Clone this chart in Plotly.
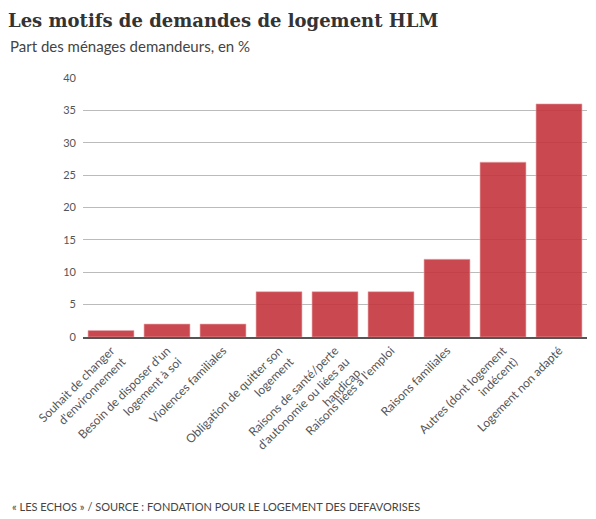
import plotly.graph_objects as go

# Data
motifs = [
    "Souhait de changer<br>d'environnement",
    "Besoin de disposer d'un<br>logement à soi",
    "Violences familiales",
    "Obligation de quitter son<br>logement",
    "Raisons de santé/perte<br>d'autonomie ou liées au<br>handicap",
    "Raisons liées à l'emploi",
    "Raisons familiales",
    "Autres (dont logement<br>indécent)",
    "Logement non adapté",
]
parts = [1, 2, 2, 7, 7, 7, 12, 27, 36]
y_ticks = [0, 5, 10, 15, 20, 25, 30, 35, 40]

TEXT_FONT = "Lato"

fig = go.Figure()

fig.add_trace(
    go.Bar(
        x=motifs,
        y=parts,
        marker=dict(
            color='rgba(196,52,60,0.9)',
            line=dict(width=1, color='rgba(230,170,175,0.6)')
        ),
        hoverinfo='x+y'
    )
)

# the page puts the figure 8px in from the top-left corner, so size and margins
# are set to land the plot where the reference has it
fig.update_layout(
    width=588,
    height=511,
    paper_bgcolor='white',
    plot_bgcolor='white',
    margin=dict(l=75, r=9, t=70, b=182),
    bargap=0.18,
    showlegend=False,
    font=dict(family=TEXT_FONT, color='#555555', size=12),
    title=dict(
        text="<b>Les motifs de demandes de logement HLM</b>",
        font=dict(family="DejaVu Serif", size=18, color='#333333'),
        x=0.0, xanchor='left',
        y=0.976, yanchor='middle'
    ),
)

fig.add_annotation(
    text="Part des ménages demandeurs, en %",
    xref='paper', yref='paper',
    x=-0.149, y=1.124,
    xanchor='left', yanchor='middle',
    showarrow=False,
    font=dict(family=TEXT_FONT, size=15, color='#444444')
)

fig.add_annotation(
    text="« LES ECHOS » / SOURCE : FONDATION POUR LE LOGEMENT DES DEFAVORISES",
    xref='paper', yref='paper',
    x=-0.145, y=-0.656,
    xanchor='left', yanchor='middle',
    showarrow=False,
    font=dict(family=TEXT_FONT, size=11, color='#444444')
)

fig.update_xaxes(
    tickangle=-45,
    showline=True,
    linecolor='#555555',
    linewidth=2,
    ticks='',
    tickfont=dict(size=12, color='#555555'),
)

fig.update_yaxes(
    range=[0, 40],
    tickvals=y_ticks,
    showgrid=True,
    gridcolor='#bbbbbb',
    gridwidth=1,
    zeroline=False,
    ticks='',
    ticklabelstandoff=6,
    tickfont=dict(size=11, color='#555555'),
)

fig.write_html("out.html")
